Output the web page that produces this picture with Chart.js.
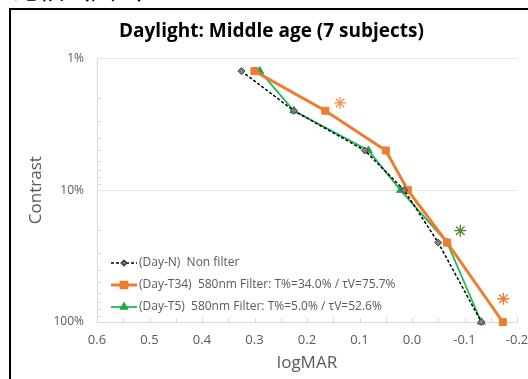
<!DOCTYPE html>
<html>
<head>
<meta charset="utf-8">
<script src="https://cdn.jsdelivr.net/npm/chart.js@4.4.1/dist/chart.umd.min.js"></script>
<style>
html, body { margin: 0; padding: 0; background: #fff; overflow: hidden; }
#page { position: relative; width: 528px; height: 379px; overflow: hidden; }
#above { position: absolute; left: 12px; top: -31px; font: 26px "Noto Sans CJK TC"; color: #000; white-space: nowrap; }
#frame { position: absolute; left: 9px; top: 8px; width: 540px; height: 400px; border-left: 2px solid #000; border-top: 2px solid #000; }
canvas { position: absolute; left: 0; top: 0; }
</style>
</head>
<body>
<div id="page">
  <div id="above">比較（圖 4）。</div>
  <div id="frame"></div>
  <canvas id="chart" width="528" height="379"></canvas>
</div>
<script>
// contrast levels (%) shared by all three series
const contrastLevels = [1.25, 2.5, 5, 10, 25, 100];
// logMAR per contrast level
const logmarNonFilter = [0.325, 0.225, 0.09, 0.015, -0.05, -0.132];
const logmarT34 = [0.30, 0.165, 0.05, 0.008, -0.067, -0.173];
const logmarT5 = [0.29, 0.225, 0.083, 0.022, -0.067, -0.132];

const seriesLabels = [
    "(Day-N)  Non filter",
    "(Day-T34)  580nm Filter: T%=34.0% / \u03c4V=75.7%",
    "(Day-T5)  580nm Filter: T%=5.0% / \u03c4V=52.6%"
];
const yTickValues = [1, 10, 100];

// significance asterisks (logMAR, contrast %)
const sigLogmar = [0.137, -0.092, -0.174];
const sigContrast = [2.18, 20.3, 66.6];
const sigColors = ['#F0955A', '#548235', '#ED7D31'];

const gray = '#595959';
const fontFam = '"Open Sans", sans-serif';

function toPoints(xs) {
    return xs.map((x, i) => ({ x: x, y: contrastLevels[i] }));
}

// small inward tick marks like the original
const minorTicks = {
    id: 'minorTicks',
    beforeDatasetsDraw(chart) {
        const ctx = chart.ctx;
        const a = chart.chartArea;
        const xs = chart.scales.x, ys = chart.scales.y;
        ctx.save();
        ctx.strokeStyle = '#d9d9d9';
        ctx.lineWidth = 1;
        ctx.beginPath();
        [1, 10].forEach(d => {
            for (let k = 2; k <= 9; k++) {
                const py = Math.round(ys.getPixelForValue(d * k)) + 0.5;
                ctx.moveTo(a.left, py); ctx.lineTo(a.left + 4, py);
            }
        });
        for (let i = 0; i <= 16; i++) {
            const px = Math.round(xs.getPixelForValue(-0.2 + i * 0.05)) + 0.5;
            ctx.moveTo(px, a.bottom); ctx.lineTo(px, a.bottom - 4);
        }
        ctx.stroke();
        ctx.restore();
    }
};

const sigStars = {
    id: 'sigStars',
    afterDatasetsDraw(chart) {
        const ctx = chart.ctx;
        const xs = chart.scales.x, ys = chart.scales.y;
        ctx.save();
        ctx.lineWidth = 1.3;
        sigLogmar.forEach((v, i) => {
            const cx = xs.getPixelForValue(v), cy = ys.getPixelForValue(sigContrast[i]);
            const r = 6;
            ctx.strokeStyle = sigColors[i];
            ctx.beginPath();
            for (let k = 0; k < 4; k++) {
                const ang = k * Math.PI / 4;
                ctx.moveTo(cx - r * Math.sin(ang), cy - r * Math.cos(ang));
                ctx.lineTo(cx + r * Math.sin(ang), cy + r * Math.cos(ang));
            }
            ctx.stroke();
        });
        ctx.restore();
    }
};

const insideLegend = {
    id: 'insideLegend',
    afterDraw(chart) {
        const ctx = chart.ctx;
        const a = chart.chartArea;
        const x0 = a.left + 14, x1 = x0 + 26;
        chart.data.datasets.forEach((ds, i) => {
            const y = a.bottom - 59 + i * 22;
            ctx.save();
            ctx.strokeStyle = ds.borderColor;
            ctx.lineWidth = ds.borderWidth;
            ctx.setLineDash(ds.borderDash || []);
            ctx.beginPath(); ctx.moveTo(x0, y); ctx.lineTo(x1, y); ctx.stroke();
            ctx.setLineDash([]);
            ctx.fillStyle = ds.pointBackgroundColor;
            ctx.strokeStyle = ds.pointBorderColor;
            Chart.helpers.drawPoint(ctx, { pointStyle: ds.pointStyle, radius: ds.pointRadius * 0.8, borderWidth: 1, rotation: 0 }, (x0 + x1) / 2, y);
            ctx.fillStyle = gray;
            ctx.font = '12px ' + fontFam;
            ctx.textBaseline = 'middle';
            ctx.textAlign = 'left';
            ctx.fillText(ds.label, x1 + 2, y);
            ctx.restore();
        });
    }
};

new Chart(document.getElementById('chart'), {
    type: 'line',
    data: {
        datasets: [{
            label: seriesLabels[0], data: toPoints(logmarNonFilter),
            borderColor: '#000', borderWidth: 1.5, borderDash: [3, 2],
            pointStyle: 'rectRot', pointRadius: 3.5,
            pointBackgroundColor: '#7f7f7f', pointBorderColor: '#404040', pointBorderWidth: 1
        }, {
            label: seriesLabels[1], data: toPoints(logmarT34),
            borderColor: '#ED7D31', borderWidth: 3,
            pointStyle: 'rect', pointRadius: 5,
            pointBackgroundColor: '#ED7D31', pointBorderColor: '#ED7D31', pointBorderWidth: 1
        }, {
            label: seriesLabels[2], data: toPoints(logmarT5),
            borderColor: '#1DB954', borderWidth: 1.8,
            pointStyle: 'triangle', pointRadius: 4.5,
            pointBackgroundColor: '#1FA84A', pointBorderColor: '#1FA84A', pointBorderWidth: 1
        }]
    },
    options: {
        responsive: false,
        animation: false,
        clip: false,
        layout: { padding: { left: 26, right: 11, top: 0, bottom: 0 } },
        plugins: {
            legend: { display: false },
            tooltip: { enabled: false },
            title: {
                display: true,
                text: 'Daylight: Middle age (7 subjects)',
                color: '#000',
                font: { family: fontFam, size: 19, weight: 'bold' },
                padding: { top: 20, bottom: 15.5 }
            }
        },
        scales: {
            x: {
                type: 'linear', reverse: true, min: -0.2, max: 0.6,
                ticks: { stepSize: 0.1, color: gray, padding: 10, font: { family: fontFam, size: 13 },
                    callback: v => Number(v).toFixed(1) },
                grid: { color: 'rgba(0,0,0,0)', drawTicks: false },
                border: { display: true, color: '#d9d9d9' },
                title: { display: true, text: 'logMAR', color: gray, font: { family: fontFam, size: 17 }, padding: { top: 0, bottom: 6 } },
                afterFit: s => { s.height = 57; s.paddingLeft = 0; s.paddingRight = 0; }
            },
            y: {
                type: 'logarithmic', reverse: true, min: 1, max: 100,
                afterBuildTicks: s => { s.ticks = yTickValues.map(v => ({ value: v })); },
                ticks: { color: gray, padding: 13, font: { family: fontFam, size: 12 }, callback: v => v + '%' },
                grid: { color: '#e6e6e6', drawTicks: false },
                border: { display: true, color: '#d9d9d9' },
                title: { display: true, text: 'Contrast', color: gray, font: { family: fontFam, size: 17 }, padding: { top: 0, bottom: 0 } },
                afterFit: s => { s.width = 71; }
            }
        }
    },
    plugins: [minorTicks, sigStars, insideLegend]
});
</script>
</body>
</html>
